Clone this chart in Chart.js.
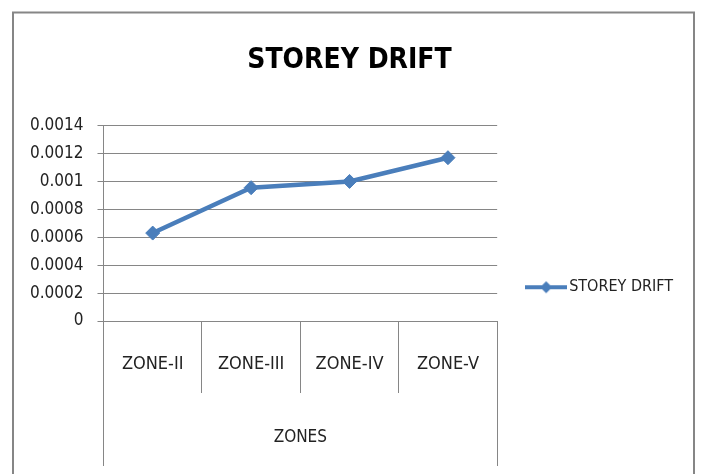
<!DOCTYPE html>
<html>
<head>
<meta charset="utf-8">
<script src="https://cdn.jsdelivr.net/npm/chart.js@4.4.1/dist/chart.umd.min.js"></script>
<style>
  html, body { margin: 0; padding: 0; background: #fff; }
  #wrap { width: 702px; height: 474px; }
</style>
</head>
<body>
<div id="wrap"><canvas id="myChart" width="702" height="474"></canvas></div>
<script>
const zones = ['ZONE-II', 'ZONE-III', 'ZONE-IV', 'ZONE-V']
const storeyDrift = [0.00063, 0.000955, 0.001, 0.00117]
const seriesName = 'STOREY DRIFT'
const chartTitle = 'STOREY DRIFT'
const xTitle = 'ZONES'

const blue = '#4a7ebb'
const gray = '#868686'
const narrow = "'DejaVu Sans Condensed', 'Liberation Sans Narrow', sans-serif"

// legend marker: line with a diamond in the middle
const legendMark = document.createElement('canvas')
legendMark.width = 42
legendMark.height = 16
const lc = legendMark.getContext('2d')
lc.strokeStyle = blue
lc.lineWidth = 4
lc.beginPath()
lc.moveTo(0, 8)
lc.lineTo(42, 8)
lc.stroke()
lc.fillStyle = blue
lc.beginPath()
lc.moveTo(21, 2)
lc.lineTo(27, 8)
lc.lineTo(21, 14)
lc.lineTo(15, 8)
lc.closePath()
lc.fill()

// outer frame + the group level lines of the category axis
const excelBits = {
    id: 'excelBits',
    afterDraw(chart) {
        const ctx = chart.ctx
        const x = chart.scales.x
        ctx.save()
        ctx.strokeStyle = gray
        ctx.lineWidth = 1
        ctx.beginPath()
        ctx.moveTo(Math.round(x.left) + 0.5, x.top)
        ctx.lineTo(Math.round(x.left) + 0.5, x.bottom)
        ctx.moveTo(Math.round(x.right) + 0.5, x.top)
        ctx.lineTo(Math.round(x.right) + 0.5, x.bottom)
        ctx.stroke()
        ctx.lineWidth = 2
        ctx.strokeRect(13, 12.5, 681, 480)
        ctx.restore()
    }
}

new Chart('myChart', {
    type: 'line',
    data: {
        labels: zones,
        datasets: [{
            label: seriesName,
            data: storeyDrift,
            borderColor: blue,
            backgroundColor: blue,
            borderWidth: 4.5,
            pointStyle: 'rectRot',
            pointRadius: 7,
            pointBorderWidth: 1,
            tension: 0
        }]
    },
    options: {
        responsive: false,
        animation: false,
        layout: { padding: { left: 16, right: 19, top: 44, bottom: 8 } },
        plugins: {
            title: {
                display: true,
                text: chartTitle,
                color: '#000',
                font: { family: narrow, size: 28, weight: 'bold' },
                padding: { top: 0, bottom: 48 }
            },
            legend: {
                position: 'right',
                maxWidth: 300,
                title: { display: true, text: ' ', font: { size: 12 }, padding: { top: 50, bottom: 0 } },
                labels: {
                    usePointStyle: true,
                    pointStyle: legendMark,
                    pointStyleWidth: 30,
                    padding: 34,
                    color: '#222',
                    font: { family: narrow, size: 16 }
                }
            },
            tooltip: { enabled: false }
        },
        scales: {
            x: {
                offset: true,
                grid: {
                    offset: true,
                    drawOnChartArea: false,
                    tickLength: 72,
                    color: gray
                },
                border: { color: gray },
                ticks: {
                    padding: -39,
                    color: '#222',
                    font: { family: narrow, size: 18 }
                },
                title: {
                    display: true,
                    text: xTitle,
                    color: '#222',
                    font: { family: narrow, size: 17 },
                    padding: { top: 91, bottom: 18 }
                }
            },
            y: {
                min: 0,
                max: 0.0014,
                grid: { color: gray, tickLength: 6 },
                border: { color: gray },
                ticks: {
                    stepSize: 0.0002,
                    padding: 14,
                    color: '#222',
                    font: { family: narrow, size: 17 },
                    callback: v => String(Number(v.toFixed(4)))
                }
            }
        }
    },
    plugins: [excelBits]
});
</script>
</body>
</html>
